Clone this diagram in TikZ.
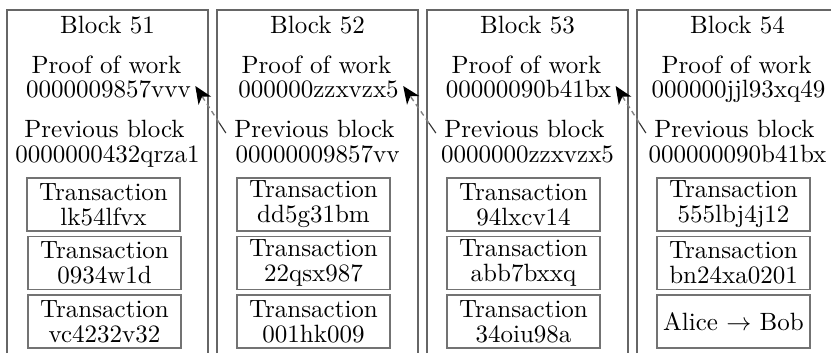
\documentclass[tikz,border=0pt]{standalone}
\usetikzlibrary{arrows.meta,calc}
\begin{document}
\begin{tikzpicture}[x=0.4pt,y=-0.4pt,
  txt/.style={anchor=base,inner sep=0pt,font=\fontsize{10}{10}\selectfont},
  txbox/.style={draw=black!55,line width=0.5pt,minimum width=61.2pt,minimum height=21.2pt,inner sep=0pt,align=center,font=\fontsize{10}{10}\selectfont},
  blockline/.style={draw=black!60,line width=0.6pt},
  linkstart/.style={draw=black!80,line width=0.45pt},
  link/.style={draw=black!50,dashed,dash pattern=on 2pt off 1.5pt,line width=0.55pt,-{Stealth[black,length=7pt,width=6pt,inset=2pt]}}]
\useasboundingbox (0,0) rectangle (831,353);
\foreach \c/\n/\pw/\pb in {107.5/51/0000009857vvv/0000000432qrza1,
                         317.5/52/000000zzxvzx5/00000009857vv,
                         527.5/53/00000090b41bx/0000000zzxvzx5,
                         737.5/54/000000jjl93xq49/000000090b41bx}{
  \draw[blockline] (\c-100.5,353) -- (\c-100.5,10) -- (\c+100.5,10) -- (\c+100.5,353);
  \node[txt] (title\n) at (\c,33) {Block \n};
  \node[txt] (pwt\n) at (\c-1,73) {Proof of work};
  \node[txt] (pwh\n) at (\c+1,97) {\pw};
  \node[txt] (pbt\n) at (\c-3,137) {Previous block};
  \node[txt] (pbh\n) at (\c,162) {\pb};
}
% transactions
\node[txbox] (tA51) at (103.5,204.5) {Transaction\\lk54lfvx};
\node[txbox] (tB51) at (104.5,263) {Transaction\\0934w1d};
\node[txbox] (tC51) at (104.5,321.5) {Transaction\\vc4232v32};
\node[txbox] (tA52) at (313.5,204.5) {Transaction\\dd5g31bm};
\node[txbox] (tB52) at (313.5,263) {Transaction\\22qsx987};
\node[txbox] (tC52) at (313.5,321.5) {Transaction\\001hk009};
\node[txbox] (tA53) at (523.5,204.5) {Transaction\\94lxcv14};
\node[txbox] (tB53) at (523.5,263) {Transaction\\abb7bxxq};
\node[txbox] (tC53) at (523.5,321.5) {Transaction\\34oiu98a};
\node[txbox] (tA54) at (733.5,204.5) {Transaction\\555lbj4j12};
\node[txbox] (tB54) at (733.5,263) {Transaction\\bn24xa0201};
\node[txbox] (tC54) at (733.5,321.5) {Alice $\rightarrow$ Bob};
% links
\foreach \a/\b in {52/51,53/52,54/53}{
  \coordinate (s\a) at ($(pbt\a.base west)+(-8,-4)$);
  \coordinate (t\b) at ($(pwh\b.base east)+(4,-11)$);
  \coordinate (m\a) at ($(s\a)!0.22!(t\b)$);
  \draw[linkstart] (s\a) -- (m\a);
  \draw[link] (m\a) -- (t\b);
}
\end{tikzpicture}
\end{document}
